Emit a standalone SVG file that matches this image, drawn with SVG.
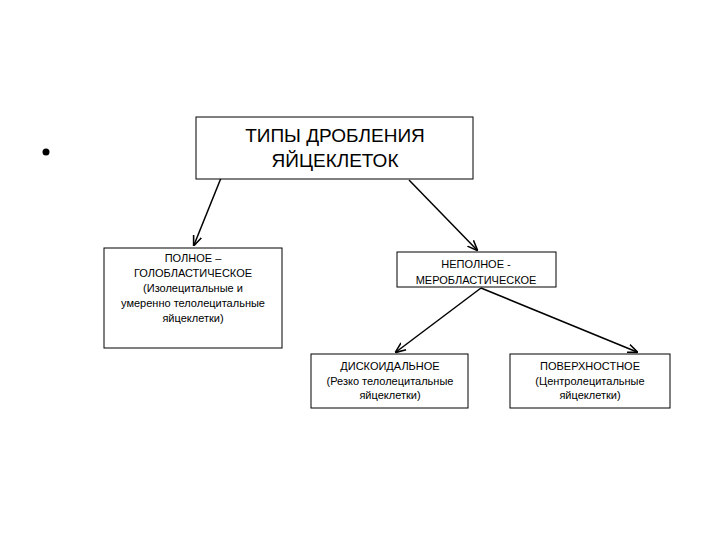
<svg xmlns="http://www.w3.org/2000/svg" width="720" height="540" viewBox="0 0 720 540">
<style>
rect{fill:#fff;stroke:#000;stroke-width:1}
text{font-family:"Liberation Sans",Arial,sans-serif;text-anchor:middle;fill:#000}
.s{font-size:11px}
.b{font-size:19px}
line{stroke:#000;stroke-width:1.5}
</style>
<defs><marker id="a" viewBox="0 0 10 10" refX="9" refY="5" markerWidth="7" markerHeight="7" orient="auto"><path d="M0,1 L10,5 L0,9" fill="none" stroke="#000" stroke-width="1.5"/></marker></defs>
<rect width="720" height="540" style="stroke:none"/>
<circle cx="46" cy="152" r="3.5" fill="#000"/>
<g id="connectors">
<line x1="221" y1="178" x2="194" y2="245" marker-end="url(#a)"/>
<line x1="409" y1="180" x2="477" y2="250" marker-end="url(#a)"/>
<line x1="481" y1="288" x2="396" y2="352" marker-end="url(#a)"/>
<line x1="481" y1="288" x2="637" y2="352" marker-end="url(#a)"/>
</g>
<g id="root"><rect x="196" y="117" width="277" height="62"/>
<text class="b" x="335" y="142">ТИПЫ ДРОБЛЕНИЯ</text><text class="b" x="335" y="167">ЯЙЦЕКЛЕТОК</text></g>
<g id="full"><rect x="104" y="248" width="178" height="100"/>
<text class="s" x="193" y="262">ПОЛНОЕ –</text><text class="s" x="193" y="277">ГОЛОБЛАСТИЧЕСКОЕ</text><text class="s" x="193" y="292">(Изолецитальные и</text><text class="s" x="193" y="307">умеренно телолецитальные</text><text class="s" x="193" y="322">яйцеклетки)</text></g>
<g id="partial"><rect x="397" y="252" width="159" height="35"/>
<text class="s" x="476" y="268">НЕПОЛНОЕ -</text><text class="s" x="476" y="284">МЕРОБЛАСТИЧЕСКОЕ</text></g>
<g id="disc"><rect x="311" y="354" width="157" height="54"/>
<text class="s" x="390" y="370">ДИСКОИДАЛЬНОЕ</text><text class="s" x="390" y="385">(Резко телолецитальные</text><text class="s" x="390" y="399">яйцеклетки)</text></g>
<g id="surf"><rect x="510" y="354" width="160" height="54"/>
<text class="s" x="590" y="370">ПОВЕРХНОСТНОЕ</text><text class="s" x="590" y="385">(Центролецитальные</text><text class="s" x="590" y="399">яйцеклетки)</text></g>
</svg>
